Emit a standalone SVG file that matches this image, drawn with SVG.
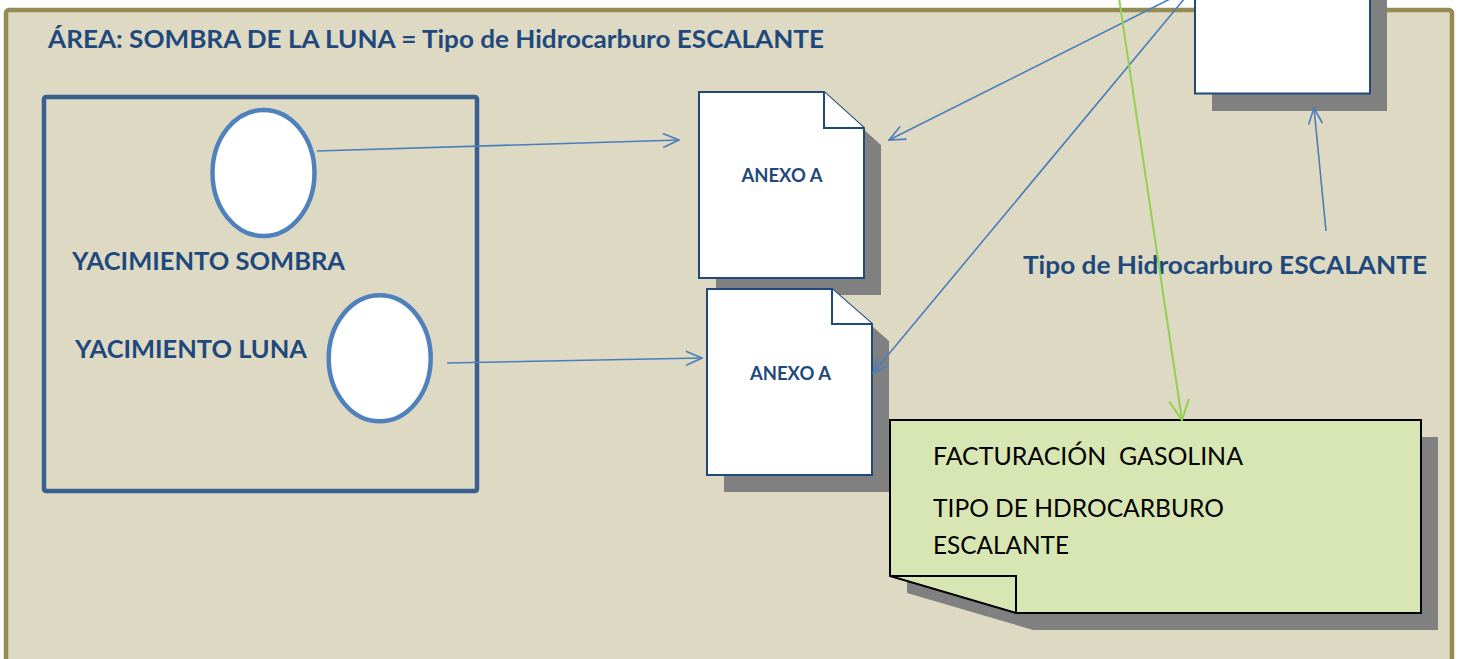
<svg xmlns="http://www.w3.org/2000/svg" width="1463" height="659" viewBox="0 0 1463 659">
<defs>
<style>
.hd{font-family:Lato,"Liberation Sans",sans-serif;font-weight:bold;fill:#1f497d}
.nt{font-family:Lato,"Liberation Sans",sans-serif;fill:#000}
.doc{fill:#fff;stroke:#1f497d;stroke-width:2}
.shadow{fill:#808080;stroke:none}
.ell{fill:#fff;stroke:#4f81bd;stroke-width:4.5}
.con{fill:none;stroke:#4a7ebb;stroke-width:1.6}
.gcon{fill:none;stroke:#92d050;stroke-width:2}
</style>
<marker id="ab" markerUnits="userSpaceOnUse" viewBox="0 0 18 16" refX="17" refY="8" markerWidth="18" markerHeight="16" orient="auto">
<path d="M1,1 L17,8 L1,15" fill="none" stroke="#4a7ebb" stroke-width="1.6"/>
</marker>
<marker id="ag" markerUnits="userSpaceOnUse" viewBox="0 0 22 22" refX="21" refY="11" markerWidth="22" markerHeight="22" orient="auto">
<path d="M1,1 L21,11 L1,21" fill="none" stroke="#92d050" stroke-width="2"/>
</marker>
</defs>
<rect x="0" y="0" width="1463" height="659" fill="#fff"/>
<g id="area">
<rect x="6" y="10" width="1446" height="700" rx="3" fill="#ddd9c3" stroke="#948a54" stroke-width="4.5"/>
<text class="hd" x="48" y="48" font-size="24.5" textLength="776" lengthAdjust="spacingAndGlyphs">ÁREA: SOMBRA DE LA LUNA = Tipo de Hidrocarburo ESCALANTE</text>
</g>
<g id="yacimientos">
<rect x="44" y="97" width="433" height="394" rx="2" fill="none" stroke="#3a5f8f" stroke-width="4.5"/>
</g>
<g id="yacimiento-sombra">
<ellipse class="ell" cx="263.5" cy="173" rx="51" ry="63"/>
<text class="hd" x="72" y="270" font-size="25.5" textLength="273" lengthAdjust="spacingAndGlyphs">YACIMIENTO SOMBRA</text>
</g>
<g id="yacimiento-luna">
<ellipse class="ell" cx="379.7" cy="358.3" rx="51" ry="63"/>
<text class="hd" x="75" y="358" font-size="25.5" textLength="232" lengthAdjust="spacingAndGlyphs">YACIMIENTO LUNA</text>
</g>
<g id="anexo-a-1">
<path class="shadow" d="M716,109 L841,109 L881,145 L881,295 L716,295 Z"/>
<path class="doc" d="M699,92 L824,92 L864,128 L864,278 L699,278 Z"/>
<path class="doc" d="M824,92 L824,128 L864,128"/>
<text class="hd" x="782" y="182" font-size="18" text-anchor="middle" textLength="81" lengthAdjust="spacingAndGlyphs">ANEXO A</text>
</g>
<g id="anexo-a-2">
<path class="shadow" d="M724,306 L849,306 L889,341 L889,492 L724,492 Z"/>
<path class="doc" d="M707,289 L832,289 L872,324 L872,475 L707,475 Z"/>
<path class="doc" d="M832,289 L832,324 L872,324"/>
<text class="hd" x="790.5" y="379.5" font-size="18" text-anchor="middle" textLength="81" lengthAdjust="spacingAndGlyphs">ANEXO A</text>
</g>
<g id="caja-superior">
<rect class="shadow" x="1212" y="-83" width="175" height="194"/>
<rect class="doc" x="1195" y="-100" width="175" height="193.5"/>
</g>
<g id="etiqueta-escalante">
<text class="hd" x="1023" y="274" font-size="24.5" textLength="404" lengthAdjust="spacingAndGlyphs">Tipo de Hidrocarburo ESCALANTE</text>
</g>
<g id="nota-facturacion">
<path class="shadow" d="M907,437 L1438,437 L1438,630 L1033,630 L907,593 Z"/>
<path d="M890,420 L1421,420 L1421,613 L1016,613 L890,576 Z" fill="#d8e6b4" stroke="#000" stroke-width="2"/>
<path d="M890,576 L1016,576 L1016,613" fill="none" stroke="#000" stroke-width="2"/>
<text class="nt" x="933" y="465" font-size="24.5" textLength="310" lengthAdjust="spacingAndGlyphs" xml:space="preserve">FACTURACIÓN  GASOLINA</text>
<text class="nt" x="933" y="517" font-size="24.5" textLength="291" lengthAdjust="spacingAndGlyphs">TIPO DE HDROCARBURO</text>
<text class="nt" x="933" y="554" font-size="24.5" textLength="136" lengthAdjust="spacingAndGlyphs">ESCALANTE</text>
</g>
<g id="connectors">
<line class="con" x1="317" y1="151" x2="679" y2="140" marker-end="url(#ab)"/>
<line class="con" x1="447" y1="363" x2="702" y2="358" marker-end="url(#ab)"/>
<line class="con" x1="1172" y1="-2" x2="889" y2="140" marker-end="url(#ab)"/>
<line class="con" x1="1185" y1="-2" x2="873" y2="373" marker-end="url(#ab)"/>
<line class="con" x1="1326" y1="231" x2="1314" y2="108" marker-end="url(#ab)"/>
<line class="gcon" x1="1119" y1="-2" x2="1182" y2="420" marker-end="url(#ag)"/>
</g>
</svg>
